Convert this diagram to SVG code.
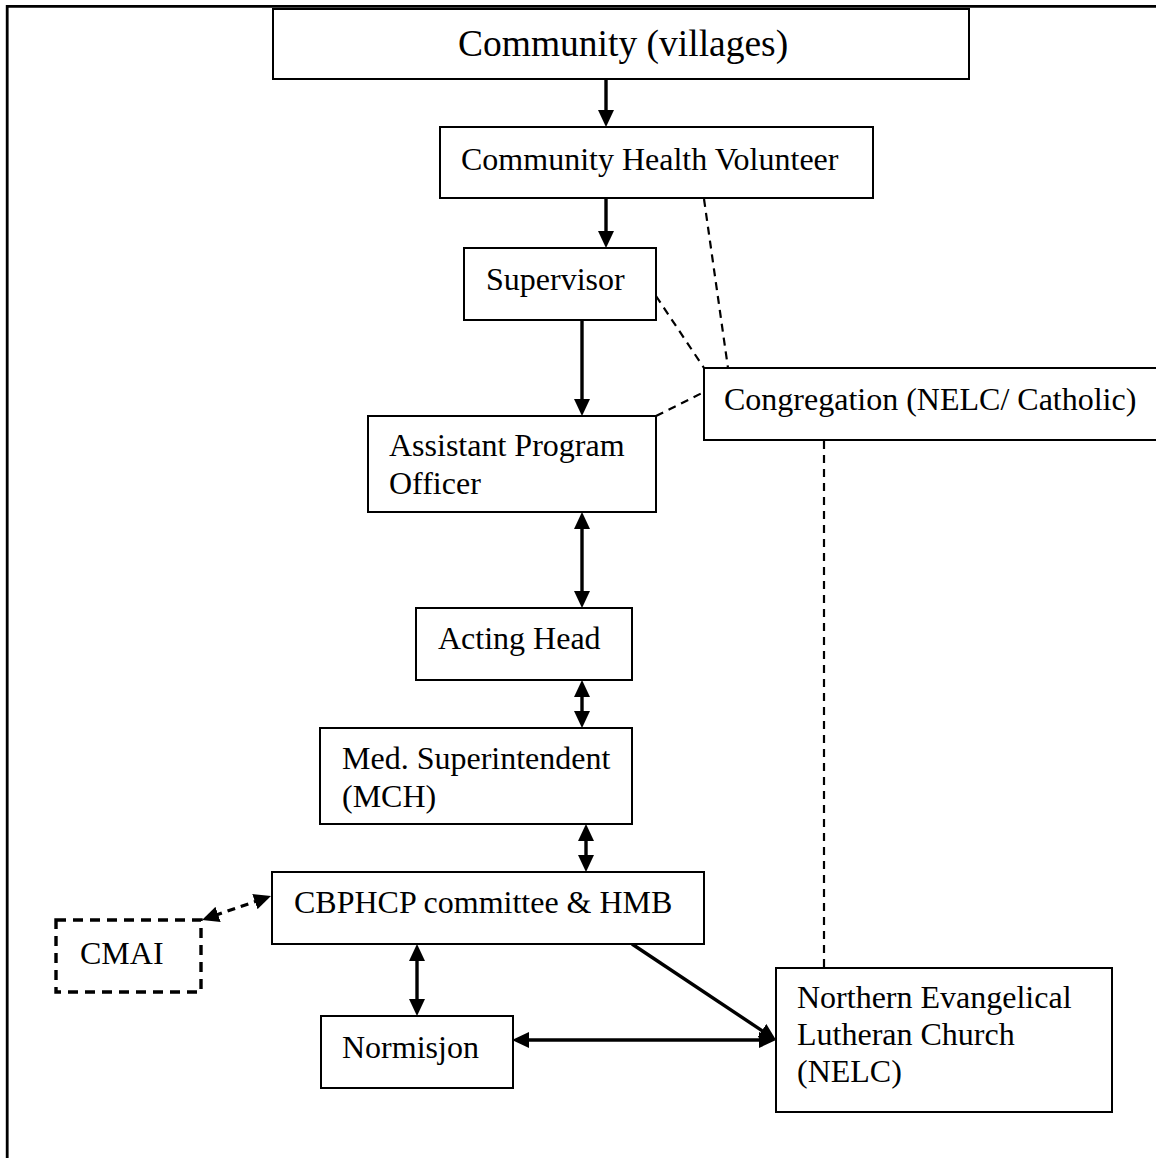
<svg xmlns="http://www.w3.org/2000/svg" width="1156" height="1158" viewBox="0 0 1156 1158">
<style>
.box{fill:#fff;stroke:#000;stroke-width:2}
.dbox{fill:#fff;stroke:#000;stroke-width:3.4;stroke-dasharray:10 7}
.t{font-family:"Liberation Serif","Times New Roman",serif;font-size:32px;fill:#000}
.big{font-size:37.5px}
.arr{stroke:#000;stroke-width:3.4;fill:none}
.darr{stroke:#000;stroke-width:3.2;fill:none;stroke-dasharray:8 6}
.dash{stroke:#000;stroke-width:2.2;fill:none;stroke-dasharray:8 6}
</style>
<defs>
<marker id="ah" viewBox="0 0 17 16" markerWidth="17" markerHeight="16" refX="4" refY="8" markerUnits="userSpaceOnUse" orient="auto-start-reverse">
<path d="M0,0 L17,8 L0,16 z" fill="#000"/>
</marker>
</defs>
<rect width="1156" height="1158" fill="#fff"/>
<path d="M7.2,1158 V6.3 H1156" fill="none" stroke="#000" stroke-width="2.8"/>
<g id="connectors">
<line class="arr" x1="606" y1="80" x2="606" y2="114" marker-end="url(#ah)"/>
<line class="arr" x1="606" y1="198" x2="606" y2="235" marker-end="url(#ah)"/>
<line class="arr" x1="582" y1="320" x2="582" y2="403" marker-end="url(#ah)"/>
<line class="arr" x1="582" y1="525" x2="582" y2="595" marker-start="url(#ah)" marker-end="url(#ah)"/>
<line class="arr" x1="582" y1="693" x2="582" y2="715" marker-start="url(#ah)" marker-end="url(#ah)"/>
<line class="arr" x1="586" y1="837" x2="586" y2="859" marker-start="url(#ah)" marker-end="url(#ah)"/>
<line class="arr" x1="417" y1="957" x2="417" y2="1003" marker-start="url(#ah)" marker-end="url(#ah)"/>
<line class="arr" x1="525" y1="1040" x2="763" y2="1040" marker-start="url(#ah)" marker-end="url(#ah)"/>
<line class="arr" x1="632" y1="944" x2="765.2" y2="1032.8" marker-end="url(#ah)"/>
<line class="darr" x1="214.3" y1="915.7" x2="258.7" y2="900.3" marker-start="url(#ah)" marker-end="url(#ah)"/>
<line class="dash" x1="704" y1="199" x2="728" y2="368"/>
<line class="dash" x1="656" y1="296" x2="704" y2="368"/>
<line class="dash" x1="656" y1="416" x2="704" y2="392"/>
<line class="dash" x1="824" y1="441" x2="824" y2="968"/>
</g>
<g id="community">
<rect class="box" x="273" y="9" width="696" height="70"/>
<text class="t big" x="458" y="56">Community (villages)</text>
</g>
<g id="chv">
<rect class="box" x="440" y="127" width="433" height="71"/>
<text class="t" x="461" y="170">Community Health Volunteer</text>
</g>
<g id="supervisor">
<rect class="box" x="464" y="248" width="192" height="72"/>
<text class="t" x="486" y="290">Supervisor</text>
</g>
<g id="congregation">
<rect class="box" x="704" y="368" width="470" height="72"/>
<text class="t" x="724" y="410">Congregation (NELC/ Catholic)</text>
</g>
<g id="apo">
<rect class="box" x="368" y="416" width="288" height="96"/>
<text class="t" x="389" y="456">Assistant Program</text>
<text class="t" x="389" y="494">Officer</text>
</g>
<g id="actinghead">
<rect class="box" x="416" y="608" width="216" height="72"/>
<text class="t" x="438" y="649">Acting Head</text>
</g>
<g id="medsup">
<rect class="box" x="320" y="728" width="312" height="96"/>
<text class="t" x="342" y="769">Med. Superintendent</text>
<text class="t" x="342" y="807">(MCH)</text>
</g>
<g id="cbphcp">
<rect class="box" x="272" y="872" width="432" height="72"/>
<text class="t" x="294" y="913">CBPHCP committee &amp; HMB</text>
</g>
<g id="cmai">
<rect class="dbox" x="56" y="920" width="145" height="72"/>
<text class="t" x="80" y="964">CMAI</text>
</g>
<g id="normisjon">
<rect class="box" x="321" y="1016" width="192" height="72"/>
<text class="t" x="342" y="1058">Normisjon</text>
</g>
<g id="nelc">
<rect class="box" x="776" y="968" width="336" height="144"/>
<text class="t" x="797" y="1008">Northern Evangelical</text>
<text class="t" x="797" y="1045">Lutheran Church</text>
<text class="t" x="797" y="1082">(NELC)</text>
</g>
</svg>
